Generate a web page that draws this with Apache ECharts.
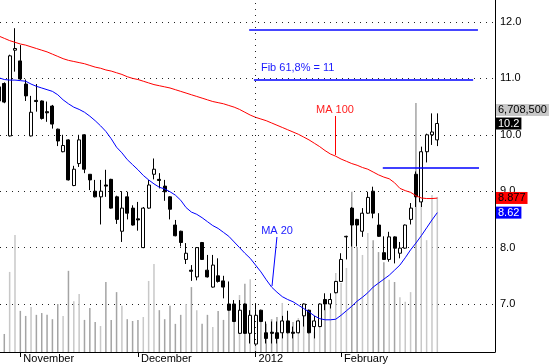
<!DOCTYPE html>
<html><head><meta charset="utf-8">
<script src="https://cdn.jsdelivr.net/npm/echarts@6/dist/echarts.min.js"></script>
<style>html,body{margin:0;padding:0;background:#fff}#c{width:550px;height:364px}</style>
</head><body><div id="c"></div>
<script>
// bar index of the first (partly visible) session; bars are numbered from there
const firstBar = -1;

const opens = [
 10.60, 10.91, 9.98, 11.50, 11.31, 10.90, 9.98, 10.61, 10.60, 10.41,
 10.51, 10.10, 9.70, 9.91, 9.10, 9.49, 10.00, 9.30, 9.00, 8.90,
 9.11, 9.21, 8.90, 8.29, 8.90, 8.70, 8.51, 8.00, 8.70, 9.30,
 9.21, 9.09, 8.90, 8.40, 8.29, 7.79, 7.60, 7.48, 8.09, 7.60,
 7.30, 7.50, 7.41, 7.00, 7.00, 6.48, 7.00, 6.48, 6.29, 6.89,
 6.49, 6.50, 6.49, 6.49, 6.70, 6.50, 6.49, 6.79, 6.89, 6.60,
 6.60, 7.08, 7.00, 7.20, 7.40, 8.19, 8.70, 8.50, 8.29, 8.61,
 9.00, 8.40, 7.91, 7.79, 8.19, 7.90, 7.99, 8.50, 9.30, 8.81,
 9.70, 10.00, 9.91
];
const closes = [
 10.85, 10.58, 11.40, 11.53, 10.99, 10.69, 10.40, 10.59, 10.29, 10.39,
 10.19, 9.89, 9.81, 9.20, 9.39, 9.91, 9.39, 9.20, 8.90, 9.00,
 9.09, 8.70, 8.50, 8.70, 8.61, 8.40, 8.49, 8.70, 9.11, 9.39,
 9.19, 8.99, 8.68, 8.21, 8.09, 7.90, 7.58, 8.00, 7.79, 7.48,
 7.69, 7.40, 7.30, 6.89, 6.69, 6.89, 6.48, 6.80, 6.80, 6.69,
 6.39, 6.48, 6.39, 6.70, 6.49, 6.48, 6.70, 7.00, 6.49, 6.70,
 7.00, 7.00, 7.08, 7.40, 7.79, 8.20, 8.40, 8.40, 8.61, 8.89,
 8.61, 8.20, 7.79, 8.19, 7.99, 7.99, 8.40, 8.70, 8.90, 9.70,
 10.00, 10.05, 10.20
];
const highs = [
 10.90, 10.93, 11.42, 11.89, 11.59, 10.98, 10.69, 10.90, 10.61, 10.59,
 10.53, 10.11, 10.00, 9.92, 9.45, 10.00, 10.01, 9.30, 9.20, 9.20,
 9.38, 9.22, 8.92, 9.00, 8.99, 8.75, 8.81, 8.72, 9.20, 9.58,
 9.32, 9.20, 8.91, 8.49, 8.30, 8.08, 7.69, 8.01, 8.10, 7.87,
 7.87, 7.81, 7.50, 7.40, 7.07, 7.07, 7.01, 6.89, 7.00, 6.90,
 6.69, 6.69, 6.69, 6.79, 6.88, 6.60, 6.71, 7.01, 6.90, 6.79,
 7.01, 7.19, 7.19, 7.41, 7.90, 8.21, 8.72, 8.51, 8.70, 8.99,
 9.08, 8.61, 8.20, 8.28, 8.20, 8.10, 8.41, 8.79, 9.35, 9.79,
 10.02, 10.38, 10.38
];
const lows = [
 10.58, 10.56, 9.97, 11.12, 10.97, 10.60, 9.97, 10.41, 10.27, 10.23,
 10.11, 9.80, 9.69, 9.19, 9.09, 9.43, 9.32, 9.02, 8.89, 8.41,
 8.90, 8.69, 8.42, 8.10, 8.50, 8.39, 8.30, 7.99, 8.69, 9.21,
 9.05, 8.83, 8.50, 8.20, 8.02, 7.71, 7.41, 7.42, 7.78, 7.47,
 7.29, 7.38, 7.10, 6.88, 6.68, 6.47, 6.47, 6.30, 6.28, 6.68,
 6.30, 6.30, 6.30, 6.39, 6.48, 6.39, 6.48, 6.60, 6.48, 6.39,
 6.59, 6.89, 6.92, 7.19, 7.39, 7.79, 8.02, 8.02, 8.19, 8.60,
 8.52, 8.19, 7.78, 7.75, 7.72, 7.81, 7.98, 8.41, 8.72, 8.72,
 9.51, 9.82, 9.80
];
// volume in thousands of shares
const volumes = [
 830, 500, 2220, 3240, 1140, 1000, 1250, 1030, 1080, 1030,
 910, 1330, 1000, 2250, 1410, 1610, 890, 1220, 830, 720,
 1940, 890, 1660, 1280, 910, 860, 890, 970, 1970, 2440,
 1160, 910, 1280, 780, 1030, 1330, 1800, 1160, 780, 1030,
 690, 1140, 890, 1250, 1110, 1580, 1890, 2020, 910, 1000,
 780, 910, 970, 1360, 890, 830, 940, 1080, 690, 550,
 1080, 1300, 1440, 2190, 1910, 2330, 4440, 2910, 2690, 3300,
 3100, 2770, 2490, 2000, 1940, 1520, 1390, 1660, 6900, 4210,
 3100, 4350, 4300
];
const ma20 = [
 11.01, 10.98, 10.97, 10.97, 10.96, 10.95, 10.90, 10.86, 10.83, 10.80,
 10.77, 10.71, 10.62, 10.55, 10.49, 10.45, 10.40, 10.33, 10.25, 10.16,
 10.06, 9.93, 9.78, 9.68, 9.56, 9.47, 9.38, 9.28, 9.20, 9.13,
 9.07, 9.04, 8.99, 8.93, 8.84, 8.71, 8.63, 8.59, 8.53, 8.46,
 8.39, 8.34, 8.27, 8.20, 8.10, 8.00, 7.90, 7.81, 7.69, 7.57,
 7.43, 7.30, 7.21, 7.13, 7.08, 7.04, 6.98, 6.92, 6.86, 6.79,
 6.74, 6.72, 6.72, 6.73, 6.80, 6.88, 6.96, 7.05, 7.12, 7.20,
 7.30, 7.37, 7.44, 7.51, 7.60, 7.69, 7.82, 7.96, 8.08, 8.21,
 8.35, 8.49, 8.62
];
const ma100 = [
 11.75, 11.71, 11.67, 11.64, 11.61, 11.59, 11.56, 11.53, 11.50, 11.47,
 11.43, 11.39, 11.35, 11.32, 11.30, 11.28, 11.26, 11.23, 11.20, 11.18,
 11.15, 11.13, 11.10, 11.07, 11.03, 11.00, 10.98, 10.95, 10.92, 10.89,
 10.87, 10.85, 10.83, 10.80, 10.77, 10.74, 10.71, 10.68, 10.65, 10.62,
 10.59, 10.57, 10.55, 10.52, 10.49, 10.45, 10.40, 10.35, 10.31, 10.28,
 10.25, 10.21, 10.17, 10.13, 10.09, 10.05, 10.01, 9.96, 9.91, 9.85,
 9.79, 9.72, 9.66, 9.62, 9.57, 9.53, 9.49, 9.46, 9.42, 9.39,
 9.34, 9.29, 9.25, 9.22, 9.15, 9.05, 9.01, 8.98, 8.92, 8.88,
 8.87, 8.87, 8.877
];

// x-axis month ticks (bar index) and their labels
const monthTicks = [3, 25, 47, 63];
const monthLabels = ['November', 'December', '2012', 'February'];
const yearBoundary = 46.85;

// Fibonacci / level lines: [value, fromBar, toBar]
const fibLevels = [11.86, 10.97, 9.41];
const fibFrom = [45.8, 46.7, 70.8];
const fibTo = [88.6, 87.7, 88.8];
const fibText = 'Fib 61,8% = 11';

// MA tags: [barFrom, valueFrom, barTo, valueTo]
const ma100Tag = [61.86, 10.333, 61.86, 9.642];
const ma20Tag = [51.0, 8.188, 50.08, 7.319];

const volumeTag = 6708500;
const lastClose = 10.2;

const FONT = '"Liberation Sans", Arial, sans-serif';
const barX = j => j + firstBar;

const candleData = opens.map((o, j) => [barX(j), o, closes[j], lows[j], highs[j]]);
const volData = volumes.map((v, j) => ({
  value: [barX(j), v],
  itemStyle: { color: closes[j] >= opens[j] ? '#c8c8c8' : '#a4a4a4' }
}));
const ma20Data = ma20.map((v, j) => [barX(j), v]);
const ma100Data = ma100.map((v, j) => [barX(j), v]);

const hidden = { color: 'rgba(0,0,0,0)', width: 1, type: 'solid' };
function tagLabel(text, bg, fg) {
  return { show: true, position: 'end', distance: 1, formatter: text, backgroundColor: bg,
           color: fg, padding: [1, 2, 0, 2], fontSize: 11, fontFamily: FONT, opacity: 1 };
}

const chart = echarts.init(document.getElementById('c'), null, { renderer: 'canvas' });
chart.setOption({
  animation: false,
  backgroundColor: '#fff',
  textStyle: { fontFamily: FONT },
  grid: { left: 0, right: 55, top: 0, bottom: 12, containLabel: false, outerBoundsMode: 'none' },
  xAxis: {
    type: 'value', min: -0.804, max: 91.79,
    axisLine: { onZero: false, lineStyle: { color: '#000', width: 1 } },
    axisTick: { show: true, customValues: monthTicks, length: 5, lineStyle: { color: '#000' } },
    axisLabel: {
      customValues: monthTicks, align: 'left', margin: 1, padding: [0, 0, 0, 3],
      fontSize: 11, color: '#000', fontFamily: FONT,
      formatter: v => monthLabels[monthTicks.indexOf(v)] || ''
    },
    splitLine: { show: false }
  },
  yAxis: [{
    type: 'value', position: 'right', min: 6.149, max: 12.39, splitNumber: 6,
    axisLine: { show: true, onZero: false, lineStyle: { color: '#000', width: 1 } },
    axisTick: { show: false },
    axisLabel: { color: '#000', fontSize: 11, margin: 5, fontFamily: FONT,
                 showMinLabel: false, showMaxLabel: false, formatter: v => v.toFixed(1) },
    splitLine: { show: true, showMinLine: false, showMaxLine: false,
                 lineStyle: { type: [1, 5], color: '#222', width: 1 } }
  }, {
    type: 'value', min: 0, max: 9758, show: false,
    axisLine: { onZero: false }, splitLine: { show: false }
  }],
  series: [{
    type: 'bar', name: 'Volume', xAxisIndex: 0, yAxisIndex: 1,
    data: volData, barWidth: 1.5, clip: false, silent: true,
    markLine: {
      silent: true, symbol: ['none', 'none'],
      data: [{ yAxis: volumeTag / 1000, lineStyle: hidden,
               label: tagLabel(volumeTag.toLocaleString('en-US'), '#c8c8c8', '#000') }]
    }
  }, {
    type: 'candlestick', name: 'Price', xAxisIndex: 0, yAxisIndex: 0,
    data: candleData, encode: { x: 0, y: [1, 2, 3, 4] },
    barWidth: 3.5, clip: false, silent: true,
    itemStyle: { color: '#fff', color0: '#000', borderColor: '#000', borderColor0: '#000', borderWidth: 1 },
    markLine: {
      silent: true, symbol: ['none', 'none'], label: { show: false },
      data: [
        { yAxis: lastClose, lineStyle: hidden, label: tagLabel(lastClose.toFixed(1), '#000', '#fff') },
        [{ coord: [fibFrom[0], fibLevels[0]], lineStyle: { color: '#4646ff', width: 2, type: 'solid' } },
         { coord: [fibTo[0], fibLevels[0]] }],
        [{ coord: [fibFrom[1], fibLevels[1]], lineStyle: { color: '#0000ff', width: 1.5, type: 'solid' },
           label: { show: true, position: 'insideStartTop', formatter: fibText, color: '#1a1aff',
                    fontSize: 11, distance: [7, 7], fontFamily: FONT } },
         { coord: [fibTo[1], fibLevels[1]] }],
        [{ coord: [fibFrom[2], fibLevels[2]], lineStyle: { color: '#0000ff', width: 1.5, type: 'solid' } },
         { coord: [fibTo[2], fibLevels[2]] }],
        { xAxis: yearBoundary, lineStyle: { type: [1, 5], color: '#222', width: 1 } }
      ]
    }
  }, {
    type: 'line', name: 'MA 100', data: ma100Data, showSymbol: false, symbol: 'none',
    clip: false, silent: true, lineStyle: { color: '#ff0000', width: 1 },
    markLine: {
      silent: true, symbol: ['none', 'none'], label: { show: false },
      data: [
        { yAxis: ma100[ma100.length - 1], lineStyle: hidden,
          label: tagLabel(ma100[ma100.length - 1].toFixed(3), '#ff0000', '#000') },
        [{ coord: [ma100Tag[0], ma100Tag[1]], lineStyle: { color: '#ff0000', width: 1, type: 'solid' },
           label: { show: true, position: 'start', formatter: 'MA 100', color: '#ff2020', fontSize: 11,
                    distance: 1, fontFamily: FONT } },
         { coord: [ma100Tag[2], ma100Tag[3]] }]
      ]
    }
  }, {
    type: 'line', name: 'MA 20', data: ma20Data, showSymbol: false, symbol: 'none',
    clip: false, silent: true, lineStyle: { color: '#0000ff', width: 1 },
    markLine: {
      silent: true, symbol: ['none', 'none'], label: { show: false },
      data: [
        { yAxis: ma20[ma20.length - 1], lineStyle: hidden,
          label: tagLabel(ma20[ma20.length - 1].toFixed(2), '#0000ff', '#fff') },
        [{ coord: [ma20Tag[0], ma20Tag[1]], lineStyle: { color: '#0000ff', width: 1, type: 'solid' },
           label: { show: true, position: 'start', formatter: 'MA 20', color: '#2020ff', fontSize: 11,
                    distance: 1, fontFamily: FONT } },
         { coord: [ma20Tag[2], ma20Tag[3]] }]
      ]
    }
  }]
});
</script>
</body></html>
